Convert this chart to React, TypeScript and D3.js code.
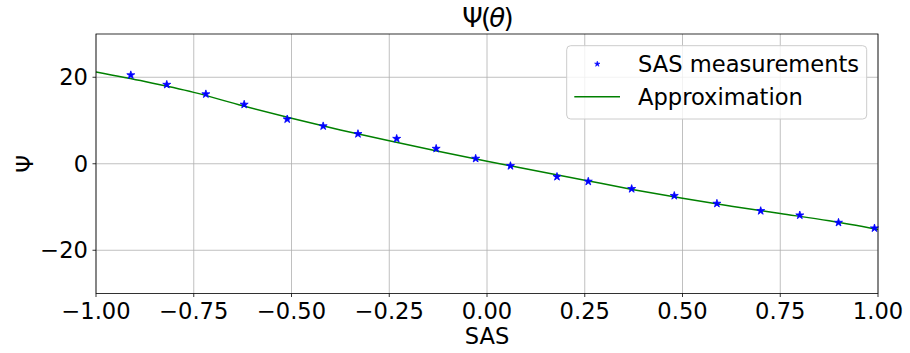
import React from "react";
import * as d3 from "d3";

const sasX = [-0.911, -0.819, -0.719, -0.621, -0.511, -0.419, -0.33, -0.231, -0.13, -0.029, 0.06, 0.179, 0.259, 0.37, 0.479, 0.588, 0.7, 0.8, 0.899, 0.991];
const sasY = [20.5, 18.3, 16.1, 13.7, 10.3, 8.7, 6.9, 5.8, 3.5, 1.2, -0.5, -3.0, -4.1, -5.8, -7.4, -9.2, -10.9, -11.9, -13.6, -14.9];

const approxX = [-1, -0.875, -0.75, -0.625, -0.5, -0.375, -0.25, -0.125, 0, 0.125, 0.25, 0.375, 0.5, 0.625, 0.75, 0.875, 1];
const approxY = [21.2, 19.0, 16.5, 13.4, 10.5, 7.8, 5.3, 2.9, 0.6, -1.6, -3.8, -6.0, -8.0, -9.8, -11.5, -13.2, -15.2];

const xTicks = [-1, -0.75, -0.5, -0.25, 0, 0.25, 0.5, 0.75, 1];
const yTicks = [-20, 0, 20];

const W = 910, H = 353;
const L = 96, R = 878, T = 34, B = 293.5;
const FONT = "DejaVu Sans, sans-serif";
const FS = 22.6;

export default function App() {
  const x = d3.scaleLinear().domain([-1, 1]).range([L, R]);
  const y = d3.scaleLinear().domain([-30, 30]).range([B, T]);
  const line = d3
    .line<number>()
    .x((_, i) => x(approxX[i]))
    .y((d) => y(d))
    .curve(d3.curveMonotoneX);
  const star = d3.symbol().type(d3.symbolStar).size(20)();
  const starSmall = d3.symbol().type(d3.symbolStar).size(9)();
  const fmtX = (v: number) => (v < 0 ? "\u2212" : "") + Math.abs(v).toFixed(2);
  const fmtY = (v: number) => (v < 0 ? "\u2212" : "") + Math.abs(v).toString();

  return (
    <svg width={W} height={H} style={{ position: "absolute", left: 0, top: 0, background: "#fff" }} fontFamily={FONT}>
      <rect x={0} y={0} width={W} height={H} fill="#fff" />
      {xTicks.map((t) => (
        <line key={"gx" + t} x1={x(t)} x2={x(t)} y1={T} y2={B} stroke="#b0b0b0" strokeWidth={0.8} />
      ))}
      {yTicks.map((t) => (
        <line key={"gy" + t} x1={L} x2={R} y1={y(t)} y2={y(t)} stroke="#b0b0b0" strokeWidth={0.8} />
      ))}
      <path d={line(approxY) || ""} fill="none" stroke="#008000" strokeWidth={1.5} />
      {sasX.map((v, i) => (
        <path key={"p" + i} d={star || ""} transform={`translate(${x(v)},${y(sasY[i])})`} fill="#0000ff" stroke="#0000ff" strokeWidth={0.8} />
      ))}
      <rect x={L} y={T} width={R - L} height={B - T} fill="none" stroke="#000" strokeWidth={0.8} />
      {xTicks.map((t) => (
        <g key={"xt" + t}>
          <line x1={x(t)} x2={x(t)} y1={B} y2={B + 3.5} stroke="#000" strokeWidth={0.8} />
          <text x={x(t)} y={318.5} fontSize={FS} textAnchor="middle" fill="#000">
            {fmtX(t)}
          </text>
        </g>
      ))}
      {yTicks.map((t) => (
        <g key={"yt" + t}>
          <line x1={L - 3.5} x2={L} y1={y(t)} y2={y(t)} stroke="#000" strokeWidth={0.8} />
          <text x={L - 8} y={y(t) + 8.2} fontSize={FS} textAnchor="end" fill="#000">
            {fmtY(t)}
          </text>
        </g>
      ))}
      <text x={(L + R) / 2} y={344} fontSize={FS} textAnchor="middle" fill="#000">
        SAS
      </text>
      <text transform={`translate(33,${(T + B) / 2}) rotate(-90)`} fontSize={FS} textAnchor="middle" fill="#000">
        Ψ
      </text>
      <text x={(L + R) / 2} y={27} fontSize={26} letterSpacing={-1.8} textAnchor="middle" fill="#000">
        Ψ(<tspan fontStyle="italic">θ</tspan>)
      </text>
      <g>
        <rect x={566.7} y={45.7} width={300} height={73.3} rx={4} ry={4} fill="#fff" fillOpacity={0.8} stroke="#cccccc" strokeWidth={1} />
        <path d={starSmall || ""} transform="translate(597.3,64)" fill="#0000ff" stroke="#0000ff" strokeWidth={0.6} />
        <text x={638} y={72} fontSize={FS} fill="#000">
          SAS measurements
        </text>
        <line x1={574.3} x2={620} y1={96.7} y2={96.7} stroke="#008000" strokeWidth={1.5} />
        <text x={638} y={104.8} fontSize={FS} fill="#000">
          Approximation
        </text>
      </g>
    </svg>
  );
}
